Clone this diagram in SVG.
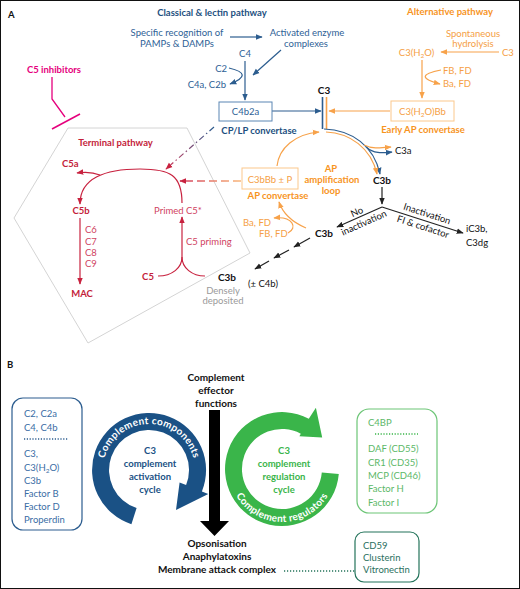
<svg xmlns="http://www.w3.org/2000/svg" width="520" height="589" viewBox="0 0 520 589">
<style>
text{font-family:Lato,"Open Sans","Liberation Sans",sans-serif;font-size:9.5px}
.b{font-weight:bold}
.m{text-anchor:middle}
.e{text-anchor:end}
.hb{fill:#1d4f80}
.blu{fill:#2e6196}
.or{fill:#f5a045}
.orb{fill:#f7941e}
.cr{fill:#c41e3a}
.crl{fill:#d0435f}
.pk{fill:#e5007d}
.bk{fill:#111}
.ln{fill:none;stroke-width:1.2}
.sb{stroke:#2c5d8f}
.so{stroke:#f7a24a}
.sc{stroke:#c8223f}
.sk{stroke:#222}
.bt{font-weight:bold;font-size:10px;fill:#111}
.wt{font-weight:bold;font-size:10px;fill:#fff}
</style>
<defs>
<marker id="ab" viewBox="0 0 10 10" refX="9" refY="5" markerWidth="7" markerHeight="7" markerUnits="userSpaceOnUse" orient="auto"><path d="M0,1 L10,5 L0,9 z" fill="#2c5d8f"/></marker>
<marker id="ao" viewBox="0 0 10 10" refX="9" refY="5" markerWidth="7" markerHeight="7" markerUnits="userSpaceOnUse" orient="auto"><path d="M0,1 L10,5 L0,9 z" fill="#f7a24a"/></marker>
<marker id="ac" viewBox="0 0 10 10" refX="9" refY="5" markerWidth="7" markerHeight="7" markerUnits="userSpaceOnUse" orient="auto"><path d="M0,1 L10,5 L0,9 z" fill="#c8223f"/></marker>
<marker id="ak" viewBox="0 0 10 10" refX="9" refY="5" markerWidth="7" markerHeight="7" markerUnits="userSpaceOnUse" orient="auto"><path d="M0,1 L10,5 L0,9 z" fill="#222"/></marker>
<linearGradient id="gO" gradientUnits="userSpaceOnUse" x1="241" y1="181" x2="180" y2="181"><stop offset="0" stop-color="#f9b77a"/><stop offset="1" stop-color="#d23c5c"/></linearGradient>
<linearGradient id="gB" gradientUnits="userSpaceOnUse" x1="214" y1="127" x2="166" y2="169"><stop offset="0" stop-color="#2c5d8f"/><stop offset="1" stop-color="#d23c5c"/></linearGradient>
<path id="bluetp" d="M 103 470 A 46 46 0 0 1 195 470"/>
<path id="greentp" d="M 229 469 A 53 53 0 0 0 335 469"/>
</defs>
<rect x="0.5" y="0.5" width="519" height="588" fill="#fff" stroke="#111" stroke-width="1"/>

<!-- Panel A -->
<text x="8" y="18" class="b bk" font-size="12">A</text>
<text x="212" y="16" class="b m hb">Classical &amp; lectin pathway</text>
<text x="450" y="15" class="b m orb">Alternative pathway</text>

<polygon points="68,128 187,128 250,253 88,343 14,218" fill="none" stroke="#d4d4d4" stroke-width="1"/>

<g id="connectors">
<line x1="230" y1="37" x2="262" y2="37" class="ln sb" marker-end="url(#ab)"/>
<line x1="281" y1="50" x2="253" y2="75" class="ln sb" marker-end="url(#ab)"/>
<line x1="245" y1="61" x2="245" y2="100" class="ln sb" marker-end="url(#ab)"/>
<path d="M 229 68 Q 255 74 230 84" class="ln sb" marker-end="url(#ab)"/>
<line x1="272" y1="111" x2="321" y2="111" class="ln sb" marker-end="url(#ab)"/>
<line x1="322.5" y1="97" x2="322.5" y2="129" stroke="#2c5d8f" stroke-width="1.6"/>
<line x1="326.5" y1="97" x2="326.5" y2="129" stroke="#f7a24a" stroke-width="1.6"/>
<line x1="390" y1="111" x2="329" y2="111" class="ln so" marker-end="url(#ao)"/>
<line x1="499" y1="52" x2="441" y2="52" class="ln so" marker-end="url(#ao)"/>
<line x1="422" y1="60" x2="422" y2="98" class="ln so" marker-end="url(#ao)"/>
<path d="M 441 70 Q 410 76 440 84" class="ln so" marker-end="url(#ao)"/>
<path d="M 324 129 C 352 130, 374 146, 380 174" class="ln sb" marker-end="url(#ab)"/>
<path d="M 326 132 C 350 133, 371 148, 377 174" class="ln so" marker-end="url(#ao)"/>
<path d="M 364 145 C 372 149, 380 148, 391 147" class="ln so" marker-end="url(#ao)"/>
<path d="M 366 147 C 374 154, 382 153, 392 152" class="ln sb" marker-end="url(#ab)"/>
<line x1="382" y1="187" x2="382" y2="204" class="ln sk" marker-end="url(#ak)"/>
<line x1="382" y1="207" x2="337" y2="227" class="ln sk" marker-end="url(#ak)"/>
<line x1="382" y1="207" x2="463" y2="233" class="ln sk" marker-end="url(#ak)"/>
<line x1="310" y1="238" x2="294" y2="247" class="ln sk" marker-end="url(#ak)"/>
<line x1="289" y1="250" x2="274" y2="258" class="ln sk" marker-end="url(#ak)"/>
<line x1="269" y1="261" x2="255" y2="269" class="ln sk" marker-end="url(#ak)"/>
<path d="M 306 228 C 292 222, 283 214, 279 202" class="ln so" marker-end="url(#ao)"/>
<path d="M 288 233 C 298 228, 293 216, 274 218" class="ln so" marker-end="url(#ao)"/>
<path d="M 277 166 C 279 148, 295 134, 319 132" class="ln so" marker-end="url(#ao)"/>
<line x1="241" y1="181" x2="180" y2="181" fill="none" stroke="url(#gO)" stroke-width="1.5" stroke-dasharray="8 4" marker-end="url(#ac)"/>
<line x1="214" y1="127" x2="166" y2="169" fill="none" stroke="url(#gB)" stroke-width="1.2" stroke-dasharray="6 3 1.5 3" marker-end="url(#ac)"/>
<path d="M 182 203 C 182 175, 170 169, 140 169 C 105 169, 80 178, 80 204" class="ln sc" marker-end="url(#ac)"/>
<path d="M 100 175 Q 90 171 77 173" class="ln sc" marker-end="url(#ac)"/>
<line x1="80" y1="218" x2="80" y2="284" class="ln sc" marker-end="url(#ac)"/>
<line x1="182" y1="257" x2="182" y2="217" class="ln sc" marker-end="url(#ac)"/>
<path d="M 158 276 C 172 276, 182 268, 182 257" class="ln sc"/>
<path d="M 205 276 C 192 276, 182 268, 182 257" class="ln sc"/>
<path d="M 52 77 L 52 99 L 65 117" fill="none" stroke="#e5007d" stroke-width="1.3"/>
<line x1="52" y1="129" x2="80" y2="114" stroke="#e5007d" stroke-width="1.5"/>
<line x1="284" y1="571" x2="355" y2="571" stroke="#23735a" stroke-width="1.5" stroke-dasharray="1.2 1.8"/>
</g>

<g id="recognition"><text x="177" y="36" class="m blu">Specific recognition of</text><text x="177" y="47" class="m blu">PAMPs &amp; DAMPs</text></g>
<g id="enzymes"><text x="307" y="36" class="m blu">Activated enzyme</text><text x="306" y="47" class="m blu">complexes</text></g>
<g id="c4"><text x="245" y="57" class="m blu">C4</text></g>
<g id="c2"><text x="227" y="72" class="e blu">C2</text></g>
<g id="c4a"><text x="226" y="88" class="e blu">C4a, C2b</text></g>
<g id="cplp"><rect x="219" y="102" width="53" height="19" fill="#fff" stroke="#5b86b3" stroke-width="1"/><text x="245.5" y="115" class="m blu">C4b2a</text><text x="259" y="134" class="b m hb">CP/LP convertase</text></g>
<g id="c3top"><text x="324" y="94" class="bt m">C3</text></g>
<g id="earlyap"><rect x="391" y="101" width="63" height="20" fill="#fff" stroke="#fbc88c" stroke-width="1"/><text x="422.5" y="115" class="m or">C3(H<tspan font-size="6.5" dy="2">2</tspan><tspan dy="-2">O)Bb</tspan></text><text x="423" y="133" class="b m orb">Early AP convertase</text></g>
<g id="spont"><text x="473" y="37" class="m or">Spontaneous</text><text x="473" y="47" class="m or">hydrolysis</text></g>
<g id="c3h2o"><text x="416.5" y="56" class="m or">C3(H<tspan font-size="6.5" dy="2">2</tspan><tspan dy="-2">O)</tspan></text></g>
<g id="c3ap"><text x="502" y="56" class="or">C3</text></g>
<g id="fbfd1"><text x="443" y="74" class="or">FB, FD</text><text x="443" y="87" class="or">Ba, FD</text></g>
<g id="c3a"><text x="395" y="154" class="bk">C3a</text></g>
<g id="c3b1"><text x="382" y="184" class="bt m">C3b</text></g>
<g id="noinact"><text transform="translate(357,212) rotate(-24)" y="3" class="m bk" font-size="8.5">No</text><text transform="translate(364,223) rotate(-24)" y="3" class="m bk" font-size="8.5">inactivation</text></g>
<g id="inact"><text transform="translate(427,214) rotate(18)" y="3" class="m bk" font-size="8.5">Inactivation</text><text transform="translate(423,227) rotate(18)" y="3" class="m bk" font-size="8.5">FI &amp; cofactor</text></g>
<g id="ic3b"><text x="466" y="232" class="bk">iC3b,</text><text x="466" y="246" class="bk">C3dg</text></g>
<g id="c3b2"><text x="324" y="237" class="bt m">C3b</text></g>
<g id="c3b3"><text x="227" y="281" class="bt m">C3b</text><text x="248" y="287" class="bk">(± C4b)</text><text x="223" y="294" class="m" fill="#9a9a9a">Densely</text><text x="223" y="304" class="m" fill="#9a9a9a">deposited</text></g>
<g id="apconv"><rect x="242" y="168" width="56" height="21" fill="#fff" stroke="#fbc88c" stroke-width="1"/><text x="270" y="183" class="m or">C3bBb ± P</text><text x="278" y="199" class="b m orb">AP convertase</text></g>
<g id="amploop"><text x="331" y="172" class="b m orb">AP</text><text x="332" y="183" class="b m orb">amplification</text><text x="331" y="194" class="b m orb">loop</text></g>
<g id="fbfd2"><text x="243" y="226" class="or">Ba, FD</text><text x="259" y="237" class="or">FB, FD</text></g>
<g id="inhib"><text x="54" y="73" class="b m pk">C5 inhibitors</text></g>
<g id="terminal"><text x="115.5" y="146" class="b m cr">Terminal pathway</text></g>
<g id="c5a"><text x="62" y="167" class="b cr">C5a</text></g>
<g id="c5b"><text x="81" y="214" class="b m cr">C5b</text></g>
<g id="c6c9"><text x="85" y="233" class="crl">C6</text><text x="85" y="245" class="crl">C7</text><text x="85" y="256" class="crl">C8</text><text x="85" y="267" class="crl">C9</text></g>
<g id="mac"><text x="82" y="297" class="b m cr">MAC</text></g>
<g id="primed"><text x="178" y="214" class="m crl">Primed C5*</text><text x="186" y="245" class="crl">C5 priming</text></g>
<g id="c5"><text x="148" y="280" class="b m cr">C5</text></g>

<!-- Panel B -->
<text x="7" y="368" class="b bk" font-size="12">B</text>
<g id="effector"><text x="216" y="381" class="bt m">Complement</text><text x="216" y="394" class="bt m">effector</text><text x="216" y="407" class="bt m">functions</text>
<polygon points="209,410 220,410 220,521 229,521 214.5,536 200,521 209,521" fill="#000"/></g>
<g id="outcomes"><text x="217" y="547" class="bt m">Opsonisation</text><text x="217" y="560" class="bt m">Anaphylatoxins</text><text x="217" y="573" class="bt m">Membrane attack complex</text></g>

<g id="components-box"><rect x="12" y="398" width="70" height="132" rx="11" fill="none" stroke="#2c5d8f" stroke-width="1.2"/>
<g fill="#3a6da5"><text x="24" y="417" fill="#3a6da5">C2, C2a</text><text x="24" y="431" fill="#3a6da5">C4, C4b</text>
<line x1="24" y1="439" x2="68" y2="439" stroke="#2c5d8f" stroke-width="1.5" stroke-dasharray="1.2 1.6"/>
<text x="24" y="457" fill="#3a6da5">C3,</text><text x="24" y="471" fill="#3a6da5">C3(H<tspan font-size="6.5" dy="2">2</tspan><tspan dy="-2">O)</tspan></text><text x="24" y="484" fill="#3a6da5">C3b</text><text x="24" y="497" fill="#3a6da5">Factor B</text><text x="24" y="510" fill="#3a6da5">Factor D</text><text x="24" y="523" fill="#3a6da5">Properdin</text></g></g>

<g id="activation-cycle">
<path d="M 136.6 508.0 L 131.4 524.2 A 57 57 0 1 1 201.9 491.4 L 208.3 494.0 L 176 510 L 179.6 482.4 L 186.1 485.0 A 40 40 0 1 0 136.6 508.0 Z" fill="#1a5185"/>
<text class="wt" font-size="9.5" letter-spacing="0.3"><textPath href="#bluetp" startOffset="50%" text-anchor="middle">Complement components</textPath></text>
<text x="150" y="453.5" class="b m" font-size="10" fill="#1a5185">C3</text>
<text x="150" y="466.5" class="b m" font-size="10" fill="#1a5185">complement</text>
<text x="150" y="479.5" class="b m" font-size="10" fill="#1a5185">activation</text>
<text x="150" y="492.5" class="b m" font-size="10" fill="#1a5185">cycle</text>
</g>

<g id="regulation-cycle">
<path d="M 321.8 472.5 L 338.8 474.0 A 57 57 0 1 1 308.8 418.7 L 315.9 407.8 L 322.2 437.6 L 299.4 436.3 L 300.8 433.7 A 40 40 0 1 0 321.8 472.5 Z" fill="#3ab54a"/>
<text class="wt" font-size="9.5" letter-spacing="0.3"><textPath href="#greentp" startOffset="50%" text-anchor="middle">Complement regulators</textPath></text>
<text x="284" y="453.5" class="b m" font-size="10" fill="#3ab54a">C3</text>
<text x="284" y="466.5" class="b m" font-size="10" fill="#3ab54a">complement</text>
<text x="284" y="479.5" class="b m" font-size="10" fill="#3ab54a">regulation</text>
<text x="284" y="492.5" class="b m" font-size="10" fill="#3ab54a">cycle</text>
</g>

<g id="regulators-box"><rect x="357" y="409" width="80" height="104" rx="12" fill="none" stroke="#6cc576" stroke-width="1.2"/>
<text x="368" y="426" fill="#5cb868">C4BP</text>
<line x1="375" y1="434" x2="418" y2="434" stroke="#3ab54a" stroke-width="1.5" stroke-dasharray="1.2 1.6"/>
<text x="368" y="452" fill="#5cb868">DAF (CD55)</text><text x="368" y="466" fill="#5cb868">CR1 (CD35)</text><text x="368" y="479" fill="#5cb868">MCP (CD46)</text><text x="368" y="492" fill="#5cb868">Factor H</text><text x="368" y="506" fill="#5cb868">Factor I</text></g>

<g id="mac-regulators"><rect x="355" y="532" width="64" height="50" rx="9" fill="none" stroke="#23735a" stroke-width="1.2"/>
<text x="363" y="549" fill="#2a7060">CD59</text><text x="363" y="561" fill="#2a7060">Clusterin</text><text x="363" y="573" fill="#2a7060">Vitronectin</text></g>
</svg>
